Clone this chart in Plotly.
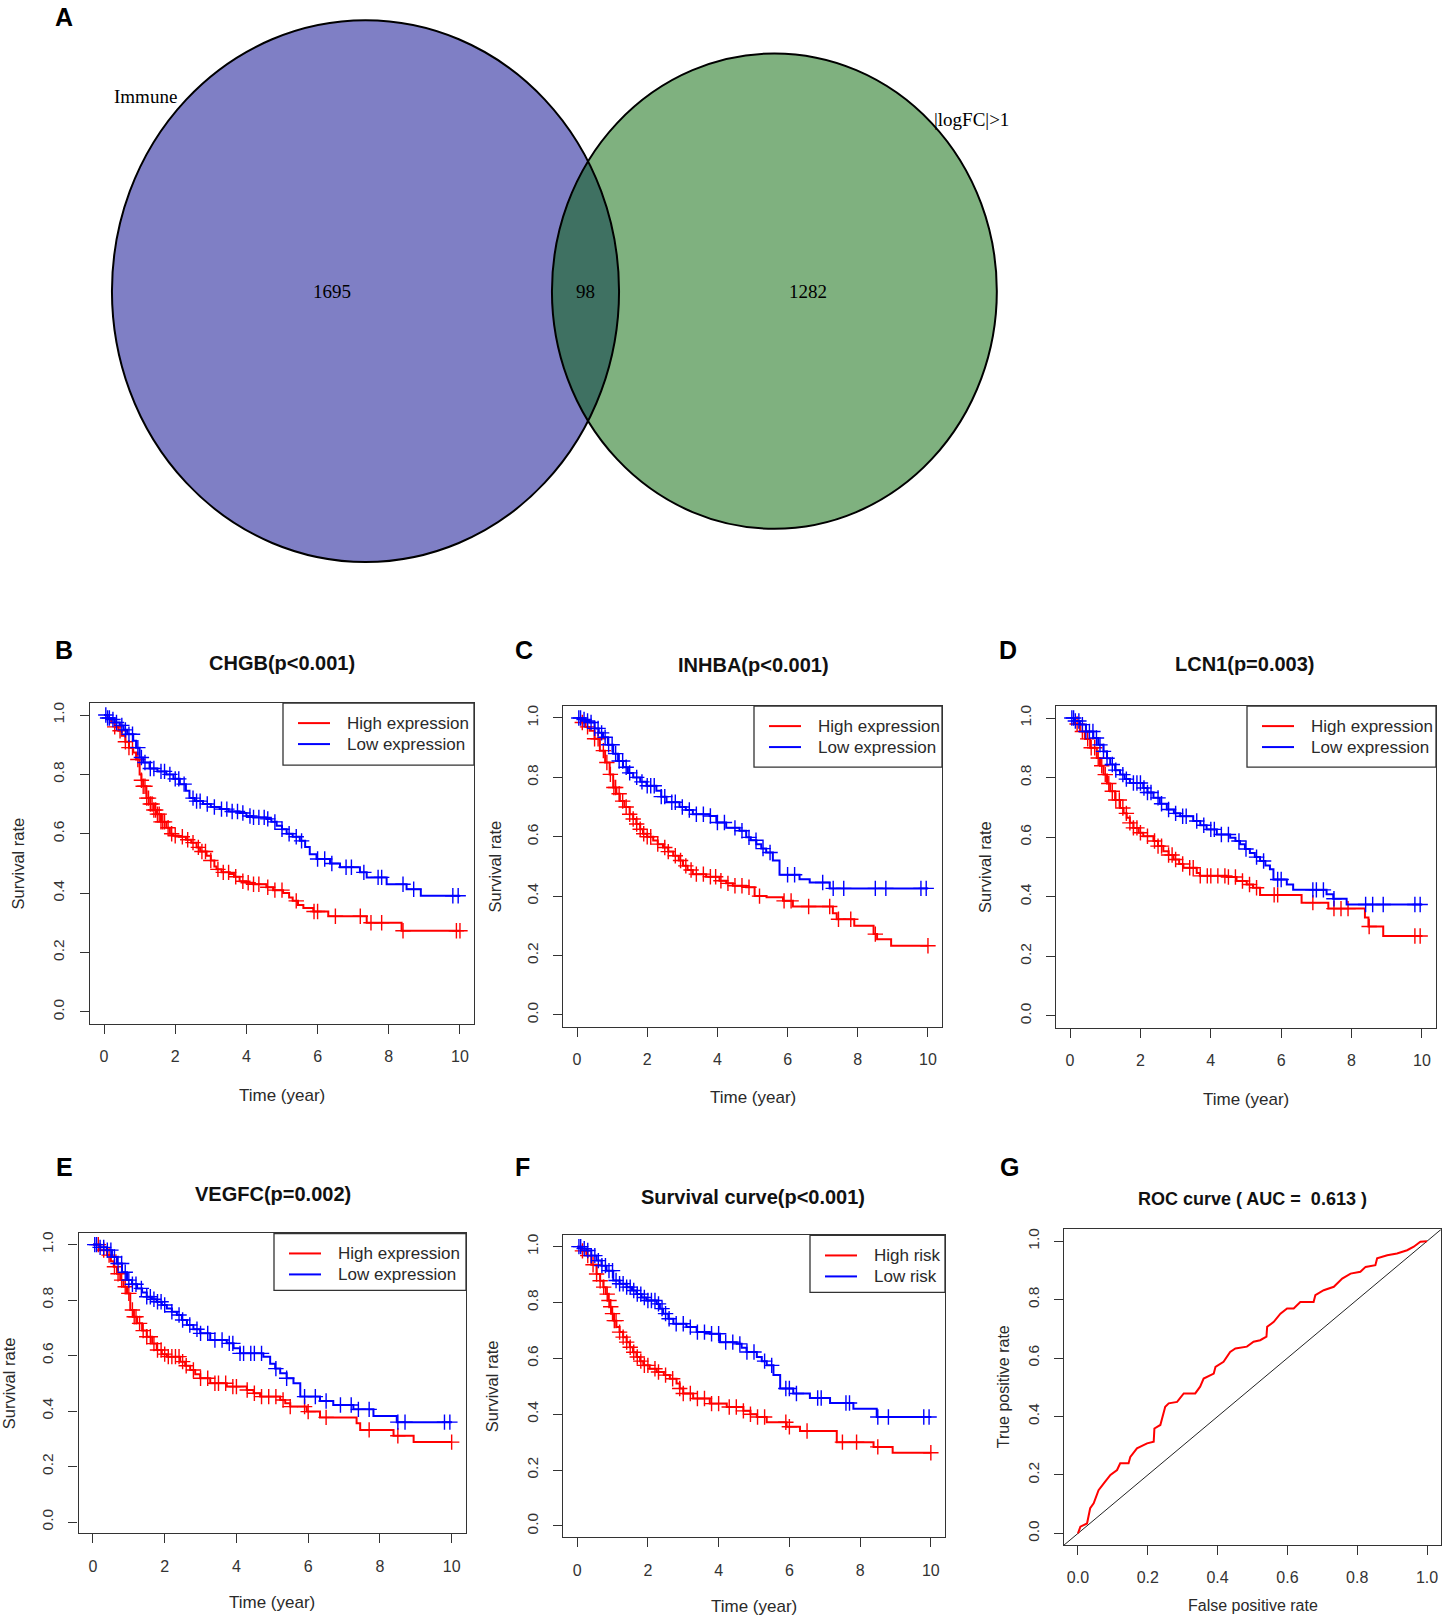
import numpy as np
import plotly.graph_objects as go

W, H = 1444, 1618
FONT = "Liberation Sans, Arial, sans-serif"
SERIF = "Liberation Serif, Times New Roman, serif"
RED, BLUE = "#ff0000", "#0000ff"
INK = "#2a2a2a"

# ======================= DATA =======================
# Venn (A)
venn_names = ["Immune", "|logFC|>1"]
venn_only_counts = [1695, 1282]
venn_shared = 98

# KM (B) CHGB
chgb_high_t = [0,0.1,0.2,0.3,0.4,0.5,0.6,0.7,0.82,0.9,1.0,1.05,1.1,1.19,1.3,1.4,1.47,1.6,1.75,1.85,
               1.94,2.1,2.3,2.45,2.6,2.7,2.88,3.0,3.1,3.16,3.3,3.53,3.65,3.81,4.0,4.19,4.56,4.75,5.03,5.2,
               5.3,5.45,5.6,5.88,6.3,7.38,8.36,10.0]
chgb_high_s = [1.0,0.99,0.975,0.96,0.947,0.93,0.91,0.89,0.874,0.85,0.80,0.78,0.76,0.72,0.70,0.68,0.666,0.64,0.62,0.60,
               0.593,0.59,0.58,0.57,0.554,0.54,0.526,0.51,0.49,0.48,0.47,0.464,0.455,0.44,0.435,0.43,0.42,0.41,0.40,0.385,
               0.374,0.36,0.35,0.338,0.322,0.30,0.273,0.273]
chgb_high_cens = [0.3,0.45,0.6,0.7,0.8,0.95,1.05,1.1,1.15,1.2,1.25,1.3,1.35,1.4,1.45,1.5,1.55,1.6,1.65,1.7,1.8,1.9,
                  2.0,2.2,2.35,2.5,2.65,2.75,2.85,3.0,3.2,3.35,3.5,3.7,3.9,4.05,4.2,4.35,4.6,4.8,5.0,5.4,5.9,6.0,
                  6.5,7.2,7.5,7.8,8.4,9.9,10.0]
chgb_low_t = [0,0.1,0.2,0.3,0.44,0.55,0.65,0.82,0.9,1.0,1.1,1.28,1.5,1.75,1.95,2.13,2.3,2.4,2.55,2.78,
              3.0,3.25,3.5,3.81,4.0,4.19,4.56,4.7,4.85,5.0,5.13,5.3,5.5,5.65,5.78,5.97,6.35,6.63,7.19,7.38,
              7.94,8.5,8.9,10.0]
chgb_low_s = [1.0,0.99,0.985,0.975,0.965,0.95,0.935,0.913,0.89,0.857,0.84,0.82,0.81,0.80,0.785,0.767,0.745,0.72,0.71,0.70,
              0.69,0.683,0.675,0.67,0.66,0.655,0.65,0.64,0.627,0.615,0.60,0.59,0.576,0.555,0.531,0.515,0.50,0.487,0.47,0.453,
              0.43,0.413,0.391,0.391]
chgb_low_cens = [0.05,0.1,0.15,0.25,0.35,0.5,0.6,0.7,0.8,0.95,1.05,1.15,1.3,1.4,1.6,1.7,1.85,2.0,2.1,2.25,2.5,2.6,2.7,
                 2.9,3.1,3.3,3.45,3.6,3.75,3.9,4.1,4.2,4.35,4.5,4.6,4.8,5.0,5.2,5.4,5.55,6.0,6.2,6.4,6.8,6.95,7.3,
                 7.7,7.8,8.4,8.7,9.8,9.95]

# KM (C) INHBA
inhba_high_t = [0,0.12,0.24,0.36,0.5,0.65,0.8,0.93,1.03,1.12,1.22,1.35,1.5,1.6,1.69,1.8,1.88,2.0,2.17,2.3,
                2.45,2.6,2.74,2.9,3.02,3.15,3.3,3.68,4.06,4.25,4.44,4.82,5.06,5.4,5.87,6.15,7.29,7.4,7.9,8.45,
                8.55,8.95,10.0]
inhba_high_s = [1.0,0.985,0.97,0.957,0.93,0.89,0.85,0.81,0.766,0.745,0.72,0.70,0.676,0.66,0.643,0.625,0.61,0.60,0.587,0.575,
                0.564,0.55,0.536,0.52,0.502,0.488,0.474,0.465,0.452,0.443,0.435,0.43,0.40,0.396,0.384,0.365,0.342,0.322,0.30,0.272,
                0.255,0.233,0.233]
inhba_high_cens = [0.15,0.3,0.5,0.6,0.75,0.85,0.95,1.05,1.1,1.2,1.3,1.4,1.5,1.6,1.7,1.8,1.9,2.0,2.1,2.3,2.5,2.6,2.8,
                   2.95,3.1,3.25,3.4,3.6,3.8,3.95,4.1,4.3,4.5,4.7,4.9,5.2,5.9,6.1,6.6,7.2,7.45,7.8,8.5,10.0]
inhba_low_t = [0,0.12,0.24,0.36,0.5,0.62,0.74,0.88,1.03,1.17,1.31,1.45,1.6,1.8,1.98,2.26,2.4,2.55,2.92,3.1,
               3.3,3.78,3.97,4.25,4.63,4.82,4.95,5.11,5.25,5.39,5.58,5.77,6.34,6.63,7.2,10.0]
inhba_low_s = [1.0,0.995,0.99,0.985,0.965,0.95,0.935,0.91,0.88,0.855,0.834,0.815,0.80,0.785,0.772,0.755,0.735,0.716,0.70,0.69,
               0.676,0.67,0.648,0.63,0.62,0.598,0.588,0.575,0.56,0.547,0.52,0.472,0.457,0.446,0.426,0.426]
inhba_low_cens = [0.05,0.1,0.2,0.3,0.4,0.5,0.6,0.7,0.8,0.9,1.0,1.1,1.2,1.3,1.4,1.5,1.7,1.85,2.0,2.1,2.2,2.4,2.5,2.7,
                  2.8,3.0,3.2,3.4,3.6,3.8,4.0,4.2,4.5,4.7,4.9,5.1,5.3,5.5,6.0,6.2,7.0,7.3,7.6,8.5,8.8,9.8,9.95]

# KM (D) LCN1
lcn1_high_t = [0,0.14,0.28,0.42,0.57,0.76,0.85,0.95,1.05,1.14,1.28,1.42,1.52,1.61,1.7,1.8,1.95,2.08,2.37,2.5,
               2.65,2.8,2.94,3.1,3.22,3.6,3.69,4.45,4.73,5.02,5.2,5.4,6.58,7.34,8.38,8.48,8.9,10.0]
lcn1_high_s = [1.0,0.98,0.955,0.93,0.90,0.866,0.84,0.81,0.78,0.754,0.725,0.698,0.68,0.665,0.648,0.631,0.615,0.603,0.587,0.57,
               0.553,0.54,0.525,0.51,0.497,0.48,0.47,0.466,0.453,0.441,0.43,0.406,0.38,0.36,0.33,0.30,0.268,0.268]
lcn1_high_cens = [0.2,0.35,0.5,0.6,0.7,0.8,0.9,1.0,1.1,1.2,1.3,1.4,1.5,1.6,1.7,1.8,1.9,2.0,2.2,2.4,2.5,2.6,2.8,2.9,
                  3.0,3.2,3.4,3.5,3.7,3.9,4.0,4.2,4.4,4.5,4.7,4.9,5.1,5.3,5.8,5.9,6.9,7.5,7.7,7.9,8.5,9.8,9.95]
lcn1_low_t = [0,0.14,0.28,0.45,0.66,0.8,0.95,1.05,1.14,1.28,1.42,1.55,1.7,2.08,2.2,2.37,2.55,2.75,2.95,3.13,
              3.5,3.7,3.88,4.17,4.55,4.7,4.83,4.97,5.11,5.25,5.4,5.55,5.68,5.78,6.16,6.34,7.29,7.48,7.86,10.0]
lcn1_low_s = [1.0,0.99,0.978,0.955,0.933,0.91,0.888,0.865,0.844,0.825,0.81,0.795,0.782,0.765,0.75,0.732,0.712,0.693,0.68,0.67,
              0.654,0.64,0.626,0.609,0.598,0.587,0.576,0.56,0.547,0.533,0.52,0.505,0.492,0.458,0.441,0.423,0.408,0.393,0.374,0.374]
lcn1_low_cens = [0.05,0.1,0.15,0.25,0.35,0.45,0.55,0.65,0.75,0.85,0.95,1.05,1.2,1.3,1.5,1.6,1.8,1.9,2.0,2.1,2.2,2.3,
                 2.5,2.6,2.8,3.0,3.2,3.3,3.6,3.8,4.0,4.1,4.3,4.5,4.8,5.0,5.3,5.5,5.9,6.0,6.9,7.0,7.2,7.5,8.4,8.6,8.9,9.8,9.95]

# KM (E) VEGFC
vegfc_high_t = [0,0.2,0.39,0.5,0.58,0.67,0.76,0.85,0.95,1.04,1.13,1.23,1.37,1.5,1.65,1.78,1.92,2.06,2.43,2.57,
                2.71,2.85,2.99,3.27,3.73,4.29,4.48,4.66,5.22,5.36,5.5,5.96,6.33,7.35,7.45,8.38,8.94,10.0]
vegfc_high_s = [1.0,0.98,0.962,0.94,0.92,0.895,0.872,0.848,0.824,0.764,0.74,0.716,0.69,0.668,0.643,0.62,0.605,0.596,0.578,0.563,
                0.548,0.533,0.518,0.50,0.488,0.476,0.464,0.452,0.44,0.428,0.416,0.398,0.377,0.356,0.332,0.311,0.288,0.288]
vegfc_high_cens = [0.15,0.3,0.45,0.6,0.7,0.8,0.9,1.0,1.1,1.15,1.2,1.3,1.4,1.5,1.6,1.7,1.8,1.9,2.0,2.1,2.2,2.3,2.4,2.5,
                   2.6,2.8,3.0,3.2,3.4,3.5,3.7,3.9,4.0,4.3,4.5,4.7,4.9,5.1,5.3,5.5,5.9,6.0,6.5,7.7,8.5,10.0]
vegfc_low_t = [0,0.2,0.39,0.53,0.67,0.81,0.95,1.09,1.23,1.37,1.5,1.64,1.78,1.92,2.06,2.2,2.34,2.48,2.62,2.8,
               2.99,3.27,3.73,3.92,4.1,4.75,4.94,5.08,5.22,5.4,5.59,5.78,6.33,6.7,7.26,7.82,8.47,10.0]
vegfc_low_s = [1.0,0.99,0.98,0.955,0.932,0.90,0.872,0.857,0.842,0.827,0.812,0.803,0.794,0.782,0.77,0.758,0.746,0.728,0.71,0.695,
               0.68,0.656,0.644,0.626,0.608,0.596,0.57,0.553,0.536,0.518,0.50,0.452,0.436,0.422,0.406,0.382,0.36,0.36]
vegfc_low_cens = [0.05,0.1,0.2,0.3,0.4,0.5,0.6,0.7,0.8,0.9,1.0,1.1,1.2,1.35,1.5,1.6,1.7,1.8,1.9,2.0,2.2,2.4,2.5,2.7,
                  2.9,3.0,3.2,3.4,3.6,3.8,3.9,4.1,4.2,4.4,4.5,4.7,5.1,5.4,5.9,6.2,6.5,6.9,7.2,7.4,7.7,8.5,8.7,9.8,9.95]

# KM (F) risk score
risk_high_t = [0,0.13,0.26,0.4,0.55,0.65,0.74,0.81,0.88,0.93,0.97,1.04,1.11,1.2,1.3,1.4,1.49,1.58,1.68,1.78,
               1.87,2.05,2.25,2.45,2.62,2.81,2.9,3.0,3.28,3.75,4.23,4.7,4.9,5.08,5.36,5.92,6.3,7.34,8.38,8.92,10.0]
risk_high_s = [1.0,0.985,0.968,0.935,0.902,0.878,0.855,0.83,0.807,0.785,0.76,0.735,0.712,0.694,0.676,0.658,0.64,0.622,0.605,0.59,
               0.575,0.563,0.551,0.54,0.527,0.51,0.492,0.474,0.456,0.438,0.426,0.412,0.40,0.39,0.371,0.355,0.34,0.30,0.283,0.262,0.262]
risk_high_cens = [0.15,0.3,0.45,0.55,0.65,0.75,0.85,0.9,0.95,1.0,1.05,1.1,1.2,1.3,1.4,1.5,1.6,1.7,1.8,1.9,2.0,2.2,2.3,
                  2.5,2.7,2.9,3.0,3.2,3.4,3.6,3.8,4.0,4.3,4.5,4.7,4.9,5.1,5.3,5.9,6.0,6.5,7.5,7.9,8.5,10.0]
risk_low_t = [0,0.13,0.26,0.4,0.55,0.69,0.83,1.02,1.2,1.4,1.55,1.68,1.82,1.96,2.25,2.34,2.43,2.58,2.72,3.09,
              3.38,3.75,4.04,4.51,4.65,4.79,5.08,5.22,5.36,5.55,5.74,6.11,6.58,7.15,7.81,8.47,10.0]
risk_low_s = [1.0,0.993,0.986,0.968,0.95,0.932,0.914,0.879,0.867,0.855,0.843,0.83,0.818,0.807,0.795,0.778,0.76,0.742,0.724,0.712,
              0.694,0.688,0.658,0.652,0.638,0.623,0.605,0.59,0.575,0.54,0.492,0.474,0.458,0.44,0.42,0.39,0.39]
risk_low_cens = [0.05,0.1,0.2,0.3,0.4,0.5,0.6,0.7,0.8,0.9,1.0,1.1,1.2,1.3,1.4,1.5,1.6,1.7,1.8,1.9,2.0,2.1,2.2,2.3,2.4,
                 2.5,2.6,2.8,3.0,3.2,3.4,3.6,3.8,4.0,4.2,4.4,4.6,4.8,5.0,5.3,5.5,5.9,6.0,6.2,6.8,6.9,7.6,7.7,8.5,8.8,9.8,9.95]

# ROC (G)
roc_fpr = [0,0.007,0.026,0.035,0.045,0.059,0.074,0.093,0.112,0.121,0.145,0.15,0.169,0.198,0.217,0.219,0.236,0.25,0.26,0.284,
           0.303,0.336,0.35,0.36,0.389,0.394,0.417,0.436,0.451,0.484,0.503,0.522,0.54,0.542,0.561,0.58,0.599,0.618,0.637,0.675,
           0.68,0.704,0.733,0.757,0.781,0.809,0.824,0.852,0.857,0.886,0.914,0.943,0.962,0.981,1.0]
roc_tpr = [0,0.023,0.034,0.086,0.103,0.148,0.171,0.20,0.217,0.24,0.24,0.262,0.291,0.308,0.314,0.359,0.371,0.433,0.445,0.45,
           0.479,0.479,0.502,0.53,0.547,0.57,0.587,0.621,0.633,0.639,0.656,0.661,0.673,0.707,0.724,0.752,0.77,0.77,0.792,0.792,
           0.815,0.832,0.844,0.872,0.889,0.895,0.912,0.918,0.941,0.952,0.958,0.969,0.981,0.998,1.0]
roc_auc = 0.613

time_ticks = [0, 2, 4, 6, 8, 10]
rate_ticks = [0.0, 0.2, 0.4, 0.6, 0.8, 1.0]

# ======================= LAYOUT HELPERS =======================
def PX(p):
    return p / W

def PY(p):
    return 1 - p / H

fig = go.Figure()
annotations = []
shapes = []

def text(x, y, s, size, bold=False, family=FONT, xanchor="center", angle=0, color=INK):
    annotations.append(dict(x=PX(x), y=PY(y), xref="paper", yref="paper", text=("<b>%s</b>" % s) if bold else s,
                            showarrow=False, xanchor=xanchor, yanchor="middle", textangle=angle,
                            font=dict(family=family, size=size, color=color)))

def step_at(ts, ss, t):
    idx = np.searchsorted(np.asarray(ts), t, side="right") - 1
    return np.asarray(ss)[np.clip(idx, 0, len(ss) - 1)]

def axis_style(rng, ticks, fmt):
    return dict(range=rng, tickmode="array", tickvals=ticks, ticktext=[fmt(v) for v in ticks],
                showline=True, mirror=True, linecolor="#333", linewidth=1.4, ticks="outside", ticklen=9,
                tickwidth=1.2, tickcolor="#333", showgrid=False, zeroline=False,
                tickfont=dict(family=FONT, size=16, color="#333"), ticklabelstandoff=9)

km_panels = [
    dict(label="B", title="CHGB(p<0.001)", box=(89.8, 474.2, 702, 1023), tpos=(282, 662), lpos=(64, 649),
         ytx=18, xty=1095, leg=(283, 702, 474, 764), names=("High expression", "Low expression"),
         high=(chgb_high_t, chgb_high_s, chgb_high_cens), low=(chgb_low_t, chgb_low_s, chgb_low_cens)),
    dict(label="C", title="INHBA(p<0.001)", box=(563, 942, 705, 1026), tpos=(753, 664), lpos=(524, 649),
         ytx=495, xty=1097, leg=(754, 705, 942, 766), names=("High expression", "Low expression"),
         high=(inhba_high_t, inhba_high_s, inhba_high_cens), low=(inhba_low_t, inhba_low_s, inhba_low_cens)),
    dict(label="D", title="LCN1(p=0.003)", box=(1056, 1436, 705, 1027), tpos=(1245, 663), lpos=(1008, 649),
         ytx=985, xty=1099, leg=(1247, 705, 1436, 766), names=("High expression", "Low expression"),
         high=(lcn1_high_t, lcn1_high_s, lcn1_high_cens), low=(lcn1_low_t, lcn1_low_s, lcn1_low_cens)),
    dict(label="E", title="VEGFC(p=0.002)", box=(78.6, 466, 1233, 1533), tpos=(273, 1193), lpos=(64, 1166),
         ytx=9, xty=1602, leg=(274, 1233, 466, 1290), names=("High expression", "Low expression"),
         high=(vegfc_high_t, vegfc_high_s, vegfc_high_cens), low=(vegfc_low_t, vegfc_low_s, vegfc_low_cens)),
    dict(label="F", title="Survival curve(p<0.001)", box=(563, 945, 1235, 1537), tpos=(753, 1196), lpos=(522, 1166),
         ytx=492, xty=1606, leg=(810, 1235, 945, 1292), names=("High risk", "Low risk"),
         high=(risk_high_t, risk_high_s, risk_high_cens), low=(risk_low_t, risk_low_s, risk_low_cens)),
]

layout_axes = {}
for i, p in enumerate(km_panels, start=1):
    xa = "x" if i == 1 else "x%d" % i
    ya = "y" if i == 1 else "y%d" % i
    l, r, t, b = p["box"]
    xs = axis_style([-0.4, 10.4], time_ticks, lambda v: "%d" % v)
    xs.update(domain=[PX(l), PX(r)], anchor=ya)
    ys = axis_style([-0.04, 1.04], rate_ticks, lambda v: "%.1f" % v)
    ys.update(domain=[PY(b), PY(t)], anchor=xa, tickangle=-90, tickfont=dict(family=FONT, size=15.5, color="#333"))
    layout_axes["xaxis" if i == 1 else "xaxis%d" % i] = xs
    layout_axes["yaxis" if i == 1 else "yaxis%d" % i] = ys

    for key, col in (("high", RED), ("low", BLUE)):
        ts, ss, cens = p[key]
        fig.add_trace(go.Scatter(x=ts, y=ss, mode="lines", line=dict(color=col, width=2, shape="hv"),
                                 xaxis=xa, yaxis=ya, showlegend=False, hoverinfo="skip"))
        fig.add_trace(go.Scatter(x=cens, y=step_at(ts, ss, cens), mode="markers",
                                 marker=dict(symbol="cross-thin", size=11, line=dict(color=col, width=1.4)),
                                 xaxis=xa, yaxis=ya, showlegend=False, hoverinfo="skip"))

    # titles / labels
    text(p["tpos"][0], p["tpos"][1], p["title"], 20, bold=True, color="#111")
    text(p["lpos"][0], p["lpos"][1], p["label"], 25, bold=True, color="#000")
    text((l + r) / 2, p["xty"], "Time (year)", 17)
    text(p["ytx"], (t + b) / 2, "Survival rate", 16.5, angle=-90)

    # legend box
    gl, gt, gr, gb = p["leg"]
    shapes.append(dict(type="rect", xref="paper", yref="paper", x0=PX(gl), x1=PX(gr), y0=PY(gb), y1=PY(gt),
                       line=dict(color="#333", width=1.3), fillcolor="white", layer="above"))
    for k, (nm, col) in enumerate(zip(p["names"], (RED, BLUE))):
        ry = gt + 20 + 21 * k
        shapes.append(dict(type="line", xref="paper", yref="paper", x0=PX(gl + 15), x1=PX(gl + 47),
                           y0=PY(ry), y1=PY(ry), line=dict(color=col, width=2)))
        text(gl + 62, ry, nm, 17, xanchor="left")

# ---------- ROC (G) ----------
gl_, gr_, gt_, gb_ = 1064, 1441, 1229, 1545
xs = axis_style([-0.04, 1.04], rate_ticks, lambda v: "%.1f" % v)
xs.update(domain=[PX(gl_), PX(gr_)], anchor="y6")
ys = axis_style([-0.04, 1.04], rate_ticks, lambda v: "%.1f" % v)
ys.update(domain=[PY(gb_), PY(gt_)], anchor="x6", tickangle=-90, tickfont=dict(family=FONT, size=15.5, color="#333"))
layout_axes["xaxis6"] = xs
layout_axes["yaxis6"] = ys
fig.add_trace(go.Scatter(x=[-0.04, 1.04], y=[-0.04, 1.04], mode="lines", line=dict(color="#222", width=1),
                         xaxis="x6", yaxis="y6", showlegend=False, hoverinfo="skip"))
fig.add_trace(go.Scatter(x=roc_fpr, y=roc_tpr, mode="lines", line=dict(color=RED, width=2),
                         xaxis="x6", yaxis="y6", showlegend=False, hoverinfo="skip"))
text(1252, 1198, "ROC curve ( AUC =&nbsp; %.3f )" % roc_auc, 18, bold=True, color="#111")
text(1009, 1166, "G", 25, bold=True, color="#000")
text((gl_ + gr_) / 2, 1605, "False positive rate", 16)
text(1003, (gt_ + gb_) / 2, "True positive rate", 16, angle=-90)

# ---------- Venn (A) ----------
n1 = venn_only_counts[0] + venn_shared
n2 = venn_only_counts[1] + venn_shared
r1, r2 = np.sqrt(n1), np.sqrt(n2)
target = np.pi * venn_shared

def lens(d):
    a1 = np.arccos((d * d + r1 * r1 - r2 * r2) / (2 * d * r1))
    a2 = np.arccos((d * d + r2 * r2 - r1 * r1) / (2 * d * r2))
    k = np.sqrt((-d + r1 + r2) * (d + r1 - r2) * (d - r1 + r2) * (d + r1 + r2))
    return r1 * r1 * a1 + r2 * r2 * a2 - 0.5 * k

lo, hi = abs(r1 - r2) + 1e-6, r1 + r2 - 1e-6
for _ in range(100):
    mid = (lo + hi) / 2
    if lens(mid) > target:
        lo = mid
    else:
        hi = mid
dist = (lo + hi) / 2

SX, SY = 5.988, 6.405          # pixels per venn unit
CX, CY = 365.5, 289.5           # pixel position of first circle centre
layout_axes["xaxis7"] = dict(domain=[0, 1], range=[(0 - CX) / SX, (W - CX) / SX], visible=False, anchor="y7")
layout_axes["yaxis7"] = dict(domain=[PY(600), 1], range=[(CY - 600) / SY, CY / SY], visible=False, anchor="x7")
fig.add_trace(go.Scatter(x=[0, dist], y=[0, 0], mode="markers", marker=dict(opacity=0), xaxis="x7", yaxis="y7",
                         showlegend=False, hoverinfo="skip"))
for (cx, rr, fill) in ((0.0, r1, "rgba(0,0,139,0.5)"), (dist, r2, "rgba(0,100,0,0.5)")):
    shapes.append(dict(type="circle", xref="x7", yref="y7", x0=cx - rr, x1=cx + rr, y0=-rr, y1=rr,
                       fillcolor=fill, line=dict(width=0), layer="above"))
for (cx, rr) in ((0.0, r1), (dist, r2)):
    shapes.append(dict(type="circle", xref="x7", yref="y7", x0=cx - rr, x1=cx + rr, y0=-rr, y1=rr,
                       fillcolor="rgba(0,0,0,0)", line=dict(color="black", width=2), layer="above"))

for xv, val in (((-r1 + dist - r2) / 2, venn_only_counts[0]), (((dist - r2) + r1) / 2, venn_shared),
                ((r1 + dist + r2) / 2, venn_only_counts[1])):
    annotations.append(dict(x=xv, y=0, xref="x7", yref="y7", text=str(val), showarrow=False,
                            font=dict(family=SERIF, size=19, color="black")))
text(179, 95, venn_names[0], 19, family=SERIF, xanchor="right", color="black")
text(932, 118, venn_names[1], 19, family=SERIF, xanchor="left", color="black")
text(64, 15, "A", 25, bold=True, color="#000")

fig.update_layout(width=W, height=H, margin=dict(l=0, r=0, t=0, b=0), paper_bgcolor="white",
                  plot_bgcolor="white", showlegend=False, annotations=annotations, shapes=shapes, **layout_axes)
fig.write_html("out.html", config={"displayModeBar": False},
               post_script="document.body.style.margin='0';document.body.style.overflow='hidden';"
                           "document.documentElement.style.overflow='hidden';")
